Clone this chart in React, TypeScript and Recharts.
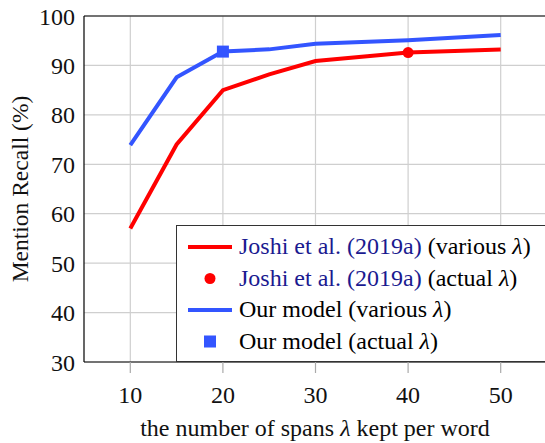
import React from 'react';
import {
  ComposedChart,
  Line,
  Scatter,
  XAxis,
  YAxis,
  CartesianGrid,
  Legend,
  ReferenceLine,
} from 'recharts';

// spans kept per word (lambda)
const spanCounts = [10, 15, 20, 25, 30, 40, 50];
const joshiRecall = [57.0, 74.0, 85.0, 88.2, 90.9, 92.6, 93.2];
const ourRecall = [73.9, 87.6, 92.8, 93.25, 94.4, 95.1, 96.15];
const joshiActual = [{ x: 40, y: 92.6 }];
const ourActual = [{ x: 20, y: 92.8 }];

const xTicks = [10, 20, 30, 40, 50];
const yTicks = [30, 40, 50, 60, 70, 80, 90, 100];

const RED = '#ff0000';
const BLUE = '#3355ff';
const NAVY = '#1a1a90';
const FONT = "'Liberation Serif', 'DejaVu Serif', serif";

const joshiData = spanCounts.map((x, i) => ({ x, y: joshiRecall[i] }));
const ourData = spanCounts.map((x, i) => ({ x, y: ourRecall[i] }));

const Lam = () => <tspan style={{ fontStyle: 'italic' }}>λ</tspan>;

const legendRows = [
  { kind: 'line', color: RED, cite: 'Joshi et al. (2019a)', rest: 'various' },
  { kind: 'circle', color: RED, cite: 'Joshi et al. (2019a)', rest: 'actual' },
  { kind: 'line', color: BLUE, cite: 'Our model', rest: 'various' },
  { kind: 'square', color: BLUE, cite: 'Our model', rest: 'actual' },
];

const LegendBox = () => (
  <svg width={380} height={137} style={{ display: 'block' }}>
    {legendRows.map((r, i) => {
      const cy = 21 + i * 31.5;
      return (
        <g key={i}>
          {r.kind === 'line' && <line x1={11} x2={55} y1={cy} y2={cy} stroke={r.color} strokeWidth={4} />}
          {r.kind === 'circle' && <circle cx={33} cy={cy} r={5.5} fill={r.color} />}
          {r.kind === 'square' && <rect x={27} y={cy - 6} width={12} height={12} fill={r.color} />}
          <text x={62} y={cy + 7} style={{ fontFamily: FONT, fontSize: 24 }} fill="#000">
            <tspan fill={r.cite.startsWith('Joshi') ? NAVY : '#000'}>{r.cite}</tspan>
            <tspan> ({r.rest} </tspan>
            <Lam />
            <tspan>)</tspan>
          </text>
        </g>
      );
    })}
  </svg>
);

const Dot = (props: any) => <circle cx={props.cx} cy={props.cy} r={5.5} fill={RED} />;
const Square = (props: any) => (
  <rect x={props.cx - 6} y={props.cy - 6} width={12} height={12} fill={BLUE} />
);

const tickStyle = { fill: '#111', fontSize: 24, style: { fontFamily: FONT } };

export default function App() {
  return (
    <div style={{ position: 'fixed', left: 0, top: 0, width: 545, height: 443, overflow: 'hidden', background: '#fff', fontFamily: FONT }}>
      <ComposedChart width={550} height={443} margin={{ top: 16, right: 3, bottom: 0, left: 0 }} style={{ fontFamily: FONT }}>
        <CartesianGrid stroke="#cfcfcf" strokeWidth={1.2} horizontalValues={yTicks} verticalValues={xTicks} />
        <XAxis
          dataKey="x"
          type="number"
          domain={[5, 55]}
          ticks={xTicks}
          height={81}
          tickSize={11}
          tickMargin={13}
          tickLine={{ stroke: '#aaaaaa', strokeWidth: 1.2 }}
          axisLine={{ stroke: '#000', strokeWidth: 1.2 }}
          tick={tickStyle}
          allowDataOverflow
          label={{
            content: () => (
              <text x={315} y={436} textAnchor="middle" style={{ fontFamily: FONT, fontSize: 24 }} fill="#111">
                the number of spans <Lam /> kept per word
              </text>
            ),
          }}
        />
        <YAxis
          dataKey="y"
          type="number"
          domain={[30, 100]}
          ticks={yTicks}
          width={84}
          tickSize={6}
          tickMargin={3}
          tickLine={false}
          axisLine={{ stroke: '#000', strokeWidth: 1.2 }}
          tick={tickStyle}
          allowDataOverflow
          label={{
            content: () => (
              <text
                x={20}
                y={189}
                transform="rotate(-90 20 189)"
                textAnchor="middle"
                dominantBaseline="central"
                style={{ fontFamily: FONT, fontSize: 23.5 }}
                fill="#111"
              >
                Mention Recall (%)
              </text>
            ),
          }}
        />
        <ReferenceLine y={100} stroke="#000" strokeWidth={1.2} />
        <Line data={joshiData} dataKey="y" stroke={RED} strokeWidth={4} dot={false} isAnimationActive={false} />
        <Line data={ourData} dataKey="y" stroke={BLUE} strokeWidth={4} dot={false} isAnimationActive={false} />
        <Scatter data={joshiActual} dataKey="y" shape={Dot} isAnimationActive={false} />
        <Scatter data={ourActual} dataKey="y" shape={Square} isAnimationActive={false} />
        <Legend
          layout="vertical"
          align="center"
          verticalAlign="middle"
          content={() => <LegendBox />}
          wrapperStyle={{
            left: 176,
            top: 225,
            width: 380,
            height: 137,
            border: '1.2px solid #333',
            background: '#fff',
            boxSizing: 'border-box',
          }}
        />
      </ComposedChart>
    </div>
  );
}
